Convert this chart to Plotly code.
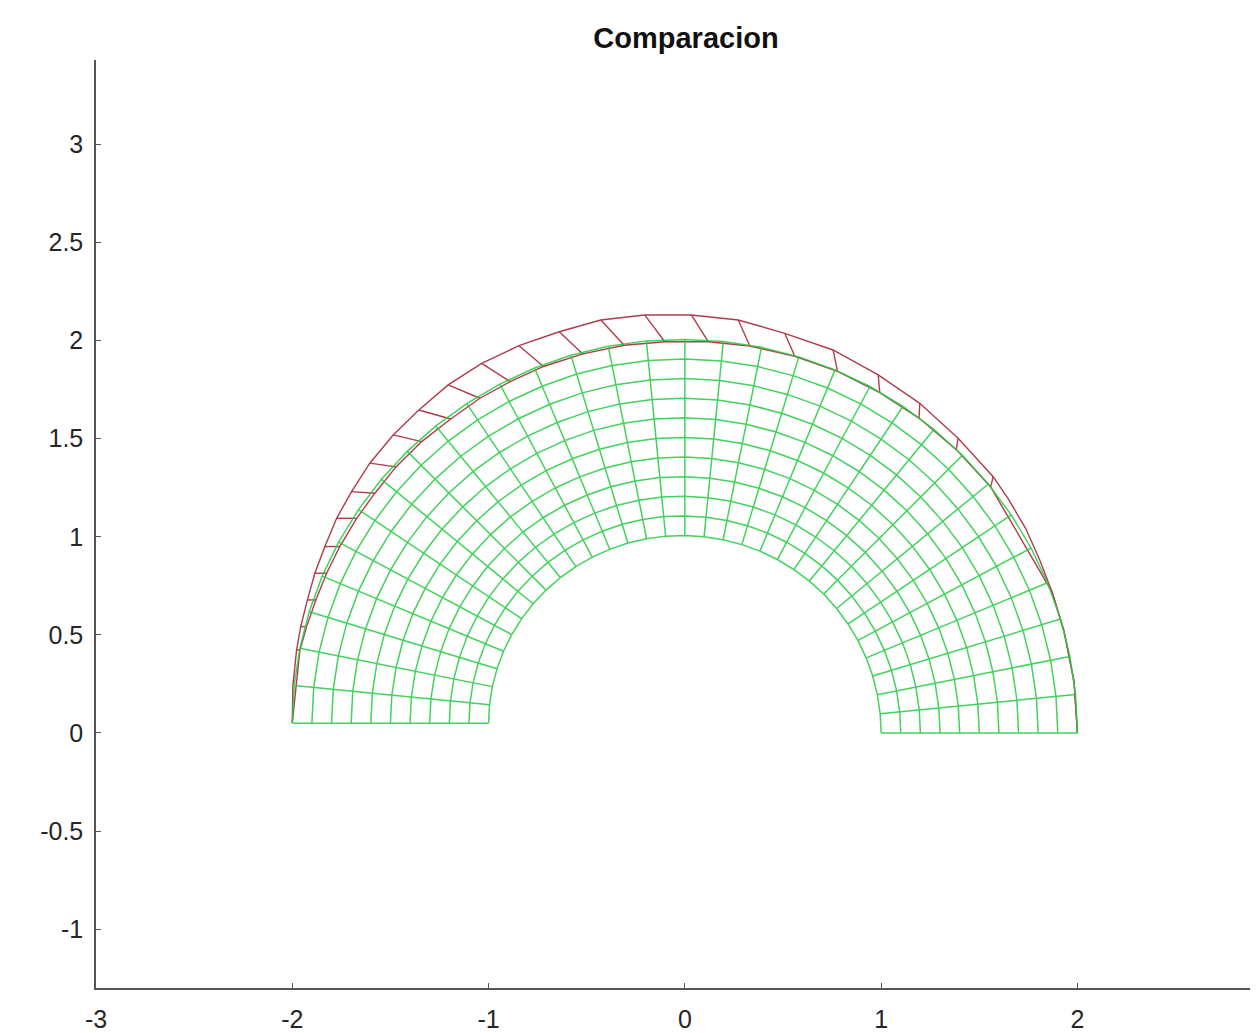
import numpy as np
import plotly.graph_objects as go

# ---------------- data ----------------
green_radii = [1.0, 1.1, 1.2, 1.3, 1.4, 1.5, 1.6, 1.7, 1.8, 1.9, 2.0]
green_angles_deg = [0, 5.625, 11.25, 16.875, 22.5, 28.125, 33.75, 39.375, 45,
                    50.625, 56.25, 61.875, 67.5, 73.125, 78.75, 84.375, 90,
                    95.625, 101.25, 106.875, 112.5, 118.125, 123.75, 129.375, 135,
                    140.625, 146.25, 151.875, 157.5, 163.125, 168.75, 174.375, 180]
green_dy = [0, 0, 0, 0, 0, 0, 0, 0,
            0.001, 0.001, 0.001, 0.002, 0.003, 0.003, 0.004, 0.005,
            0.006, 0.008, 0.009, 0.011, 0.012, 0.014, 0.016, 0.019,
            0.021, 0.024, 0.027, 0.030, 0.034, 0.037, 0.041, 0.046, 0.050]

red_seg_outer_x = [-1.978, -1.957, -1.923, -1.885, -1.834, -1.774, -1.698, -1.605,
                   -1.486, -1.355, -1.206, -1.035, -0.845, -0.640, -0.428, -0.204,
                   0.034, 0.272, 0.509, 0.755, 0.985, 1.197, 1.392, 1.571]
red_seg_outer_y = [0.423, 0.542, 0.678, 0.814, 0.950, 1.094, 1.230, 1.375,
                   1.519, 1.646, 1.774, 1.884, 1.974, 2.045, 2.105, 2.130,
                   2.130, 2.105, 2.037, 1.952, 1.825, 1.680, 1.502, 1.306]
red_seg_inner_x = [-1.961, -1.927, -1.880, -1.825, -1.758, -1.672, -1.579, -1.472,
                   -1.341, -1.193, -1.044, -0.890, -0.720, -0.520, -0.309, -0.102,
                   0.119, 0.331, 0.560, 0.778, 0.993, 1.193, 1.383, 1.558]
red_seg_inner_y = [0.423, 0.542, 0.678, 0.814, 0.950, 1.094, 1.222, 1.356,
                   1.485, 1.600, 1.706, 1.791, 1.868, 1.932, 1.976, 1.994,
                   1.994, 1.972, 1.920, 1.843, 1.735, 1.605, 1.444, 1.254]
red_arc_head_x = [-2.000, -1.997]
red_arc_head_y = [0.051, 0.240]
red_arc_tail_x = [1.646, 1.736, 1.808, 1.871, 1.932, 1.983, 2.000]
red_arc_tail_y = [1.196, 1.043, 0.882, 0.718, 0.518, 0.261, 0.000]

x_ticks = [-3, -2, -1, 0, 1, 2]
y_ticks = [-1, -0.5, 0, 0.5, 1, 1.5, 2, 2.5, 3]
x_tick_text = ["-3", "-2", "-1", "0", "1", "2"]
y_tick_text = ["-1", "-0.5", "0", "0.5", "1", "1.5", "2", "2.5", "3"]
title_text = "Comparacion"

# ---------------- build lines ----------------
th = np.deg2rad(np.array(green_angles_deg))
R = np.array(green_radii)
dy = np.array(green_dy)
gx, gy = [], []
for r in R:  # arcs
    gx += list(r * np.cos(th)) + [None]
    gy += list(r * np.sin(th) + dy) + [None]
for t, d in zip(th, dy):  # radial lines
    gx += list(R * np.cos(t)) + [None]
    gy += list(R * np.sin(t) + d) + [None]

rx, ry = [], []
arc_x = red_arc_head_x + red_seg_outer_x + red_arc_tail_x
arc_y = red_arc_head_y + red_seg_outer_y + red_arc_tail_y
rx += arc_x + [None]
ry += arc_y + [None]
inner_x = red_arc_head_x[:1] + red_seg_inner_x + red_arc_tail_x[3:]
inner_y = red_arc_head_y[:1] + red_seg_inner_y + red_arc_tail_y[3:]
rx += inner_x + [None]
ry += inner_y + [None]
for ox, oy, ix, iy in zip(red_seg_outer_x, red_seg_outer_y, red_seg_inner_x, red_seg_inner_y):
    rx += [ox, ix, None]
    ry += [oy, iy, None]

fig = go.Figure()
fig.add_trace(go.Scatter(x=rx, y=ry, mode="lines",
                         line=dict(color="rgb(175,60,75)", width=1.4),
                         hoverinfo="skip", showlegend=False))
fig.add_trace(go.Scatter(x=gx, y=gy, mode="lines",
                         line=dict(color="rgb(40,205,70)", width=1.5),
                         opacity=0.88, hoverinfo="skip", showlegend=False))

axis_common = dict(showgrid=False, zeroline=False, showline=True, linecolor="#555555",
                   linewidth=1.5, ticks="inside", ticklen=5, tickwidth=1.2,
                   tickcolor="#555555",
                   tickfont=dict(family="Liberation Sans, Arial, sans-serif", size=25,
                                 color="#262626"))
# page has an 8px body margin: figure spans page px 8..1258 x 8..1033
fig.update_layout(
    width=1250, height=1025,
    margin=dict(l=88, r=0, t=52, b=45),
    paper_bgcolor="white", plot_bgcolor="white",
    title=dict(text="<b>" + title_text + "</b>", xref="container", x=678 / 1250,
               xanchor="center", yref="container", y=1 - 30 / 1025, yanchor="middle",
               font=dict(family="Liberation Sans, Arial, sans-serif", size=29,
                         color="#111111")),
    xaxis=dict(range=[-3, 2.92], tickvals=x_ticks, ticktext=x_tick_text,
               ticklabelstandoff=8, **axis_common),
    yaxis=dict(range=[-1.30, 3.43], tickvals=y_ticks, ticktext=y_tick_text,
               ticklabelstandoff=6, **axis_common),
)
fig.write_html("out.html")
